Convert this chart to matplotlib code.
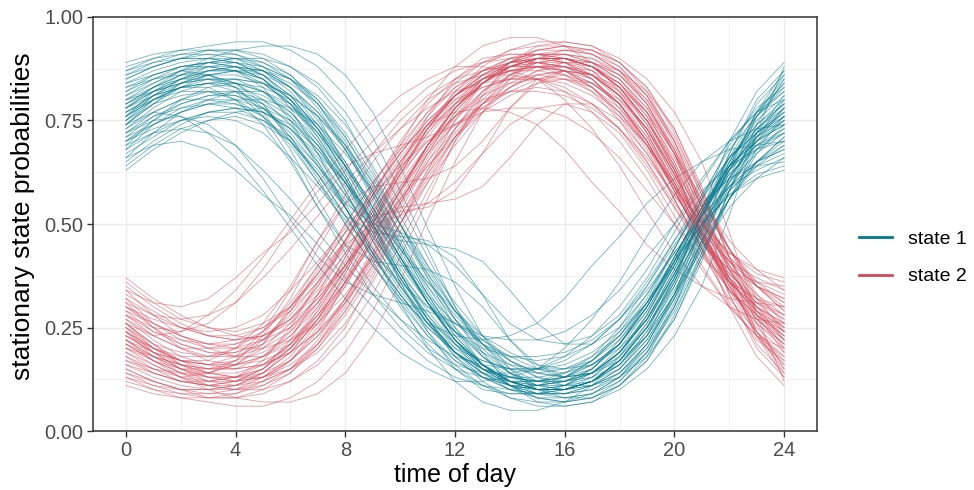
import numpy as np
import matplotlib
matplotlib.use("Agg")
import matplotlib.pyplot as plt
from matplotlib.lines import Line2D

plt.rcParams['font.family'] = ['Liberation Sans', 'DejaVu Sans']

# hours of the day at which the curves were read
hours = list(range(25))

# stationary probability of state 1, one row per posterior draw
state1 = [
    [0.76,0.80,0.83,0.84,0.84,0.82,0.77,0.69,0.58,0.46,0.35,0.26,0.19,0.15,0.13,0.12,0.13,0.16,0.21,0.30,0.42,0.54,0.64,0.71,0.76],
    [0.85,0.88,0.90,0.92,0.92,0.91,0.88,0.83,0.75,0.63,0.50,0.37,0.25,0.16,0.11,0.08,0.07,0.08,0.11,0.17,0.27,0.41,0.58,0.74,0.85],
    [0.70,0.73,0.75,0.76,0.75,0.72,0.66,0.59,0.51,0.43,0.36,0.30,0.26,0.23,0.22,0.22,0.24,0.28,0.34,0.42,0.50,0.58,0.64,0.68,0.70],
    [0.66,0.69,0.70,0.68,0.63,0.57,0.52,0.45,0.37,0.30,0.23,0.17,0.13,0.11,0.10,0.11,0.13,0.17,0.24,0.33,0.43,0.52,0.59,0.63,0.66],
    [0.78,0.82,0.85,0.86,0.84,0.79,0.70,0.60,0.52,0.48,0.47,0.46,0.42,0.33,0.22,0.15,0.13,0.15,0.21,0.31,0.44,0.56,0.66,0.73,0.78],
    [0.88,0.90,0.92,0.93,0.94,0.94,0.92,0.88,0.81,0.71,0.58,0.44,0.30,0.19,0.11,0.07,0.06,0.07,0.10,0.15,0.23,0.35,0.52,0.72,0.88],
    [0.74,0.79,0.84,0.87,0.88,0.87,0.83,0.76,0.64,0.50,0.36,0.24,0.15,0.10,0.09,0.09,0.11,0.15,0.22,0.31,0.42,0.54,0.64,0.70,0.74],
    [0.63,0.68,0.72,0.75,0.77,0.78,0.75,0.69,0.60,0.49,0.38,0.28,0.20,0.15,0.12,0.12,0.13,0.17,0.23,0.31,0.41,0.50,0.57,0.61,0.63],
    [0.82,0.85,0.87,0.86,0.83,0.77,0.68,0.56,0.45,0.35,0.27,0.20,0.16,0.14,0.14,0.15,0.18,0.23,0.30,0.39,0.50,0.61,0.70,0.77,0.82],
    [0.72,0.77,0.80,0.80,0.79,0.76,0.70,0.62,0.54,0.43,0.31,0.20,0.12,0.07,0.05,0.05,0.07,0.11,0.18,0.28,0.40,0.53,0.62,0.68,0.72],
    [0.75,0.80,0.83,0.84,0.82,0.76,0.66,0.54,0.45,0.41,0.40,0.39,0.36,0.30,0.22,0.16,0.13,0.14,0.19,0.28,0.40,0.53,0.64,0.71,0.75],
    [0.70,0.75,0.79,0.81,0.82,0.79,0.71,0.61,0.50,0.40,0.32,0.26,0.23,0.22,0.23,0.26,0.32,0.40,0.47,0.55,0.61,0.65,0.68,0.69,0.70],
    [0.79,0.83,0.86,0.88,0.88,0.86,0.81,0.73,0.62,0.50,0.38,0.27,0.19,0.14,0.11,0.10,0.11,0.14,0.20,0.29,0.41,0.54,0.66,0.74,0.79],
    [0.68,0.74,0.78,0.80,0.80,0.78,0.73,0.65,0.55,0.44,0.34,0.26,0.20,0.17,0.15,0.15,0.17,0.21,0.27,0.35,0.45,0.54,0.61,0.65,0.68],
    [0.74,0.77,0.76,0.72,0.66,0.58,0.49,0.40,0.32,0.25,0.19,0.15,0.12,0.12,0.13,0.15,0.20,0.27,0.36,0.47,0.57,0.65,0.70,0.73,0.74],
    [0.86,0.89,0.91,0.91,0.90,0.87,0.82,0.74,0.64,0.53,0.42,0.31,0.22,0.16,0.12,0.10,0.10,0.12,0.16,0.24,0.37,0.52,0.67,0.79,0.86],
    [0.77,0.81,0.84,0.86,0.87,0.86,0.83,0.77,0.68,0.57,0.45,0.33,0.23,0.16,0.12,0.10,0.10,0.12,0.17,0.25,0.36,0.49,0.61,0.71,0.77],
    [0.65,0.70,0.74,0.77,0.78,0.77,0.74,0.68,0.60,0.51,0.42,0.33,0.26,0.21,0.18,0.17,0.18,0.21,0.27,0.36,0.46,0.55,0.61,0.64,0.65],
    [0.83,0.86,0.88,0.89,0.88,0.85,0.78,0.67,0.54,0.41,0.30,0.21,0.15,0.11,0.09,0.09,0.10,0.13,0.19,0.28,0.41,0.56,0.69,0.78,0.83],
    [0.73,0.78,0.82,0.84,0.85,0.84,0.81,0.76,0.68,0.58,0.46,0.34,0.24,0.16,0.11,0.08,0.07,0.08,0.12,0.19,0.31,0.46,0.59,0.68,0.73],
    [0.80,0.84,0.87,0.88,0.87,0.83,0.75,0.64,0.55,0.50,0.48,0.45,0.40,0.33,0.26,0.22,0.21,0.23,0.28,0.37,0.48,0.60,0.70,0.77,0.80],
    [0.71,0.76,0.79,0.81,0.81,0.79,0.75,0.68,0.59,0.48,0.37,0.27,0.19,0.13,0.10,0.09,0.09,0.11,0.15,0.22,0.32,0.44,0.56,0.65,0.71],
    [0.89,0.91,0.92,0.92,0.91,0.88,0.83,0.75,0.65,0.54,0.42,0.31,0.22,0.15,0.11,0.09,0.09,0.11,0.15,0.23,0.36,0.53,0.70,0.82,0.89],
    [0.76,0.82,0.86,0.89,0.90,0.90,0.88,0.84,0.77,0.67,0.55,0.42,0.30,0.21,0.14,0.10,0.09,0.10,0.13,0.19,0.29,0.42,0.56,0.68,0.76],
    [0.69,0.72,0.73,0.72,0.69,0.63,0.56,0.48,0.40,0.33,0.27,0.22,0.18,0.16,0.15,0.15,0.16,0.19,0.24,0.31,0.40,0.50,0.59,0.65,0.69],
    [0.81,0.85,0.88,0.89,0.89,0.87,0.83,0.77,0.69,0.59,0.48,0.37,0.27,0.19,0.14,0.11,0.10,0.11,0.14,0.21,0.32,0.46,0.60,0.72,0.81],
    [0.75,0.79,0.81,0.82,0.81,0.78,0.72,0.64,0.54,0.43,0.33,0.24,0.17,0.13,0.11,0.11,0.12,0.15,0.21,0.30,0.41,0.53,0.63,0.70,0.75],
    [0.78,0.83,0.87,0.90,0.92,0.93,0.93,0.91,0.86,0.77,0.64,0.49,0.35,0.23,0.15,0.10,0.08,0.08,0.11,0.17,0.28,0.43,0.58,0.70,0.78],
    [0.67,0.71,0.75,0.77,0.78,0.77,0.73,0.66,0.57,0.47,0.37,0.28,0.21,0.16,0.13,0.12,0.12,0.14,0.19,0.27,0.38,0.49,0.58,0.64,0.67],
    [0.72,0.75,0.76,0.74,0.69,0.61,0.51,0.42,0.36,0.33,0.31,0.29,0.26,0.22,0.18,0.15,0.14,0.16,0.21,0.30,0.42,0.54,0.63,0.69,0.72],
    [0.84,0.87,0.89,0.90,0.89,0.86,0.80,0.71,0.60,0.48,0.36,0.26,0.18,0.13,0.10,0.09,0.10,0.12,0.17,0.25,0.37,0.51,0.65,0.76,0.84],
    [0.79,0.82,0.84,0.85,0.84,0.82,0.78,0.72,0.64,0.55,0.45,0.36,0.28,0.21,0.16,0.13,0.12,0.13,0.16,0.23,0.35,0.50,0.63,0.73,0.79],
    [0.74,0.80,0.84,0.86,0.86,0.84,0.79,0.71,0.61,0.50,0.39,0.29,0.21,0.15,0.12,0.11,0.12,0.15,0.21,0.30,0.42,0.54,0.64,0.70,0.74],
    [0.80,0.82,0.84,0.85,0.85,0.84,0.81,0.76,0.69,0.60,0.50,0.40,0.31,0.23,0.17,0.13,0.11,0.11,0.13,0.18,0.27,0.42,0.58,0.71,0.80],
    [0.70,0.74,0.77,0.79,0.79,0.77,0.73,0.67,0.60,0.52,0.44,0.36,0.29,0.23,0.19,0.16,0.15,0.16,0.20,0.27,0.37,0.48,0.58,0.65,0.70],
    [0.77,0.81,0.83,0.83,0.80,0.74,0.65,0.54,0.43,0.33,0.25,0.19,0.15,0.13,0.12,0.12,0.14,0.18,0.25,0.35,0.46,0.57,0.66,0.72,0.77],
    [0.87,0.89,0.90,0.90,0.89,0.86,0.81,0.73,0.62,0.50,0.38,0.27,0.18,0.12,0.08,0.06,0.06,0.07,0.11,0.18,0.30,0.46,0.63,0.77,0.87],
    [0.76,0.80,0.83,0.85,0.85,0.82,0.76,0.67,0.57,0.49,0.46,0.45,0.44,0.41,0.34,0.26,0.21,0.21,0.25,0.33,0.44,0.56,0.66,0.72,0.76],
    [0.66,0.72,0.77,0.80,0.82,0.82,0.79,0.73,0.64,0.53,0.42,0.31,0.22,0.16,0.12,0.10,0.10,0.12,0.16,0.23,0.33,0.44,0.54,0.61,0.66],
    [0.82,0.86,0.88,0.89,0.88,0.85,0.79,0.70,0.58,0.46,0.35,0.26,0.19,0.15,0.13,0.13,0.14,0.17,0.23,0.32,0.44,0.57,0.68,0.76,0.82],
    [0.79,0.83,0.86,0.87,0.87,0.85,0.80,0.72,0.61,0.49,0.37,0.27,0.19,0.14,0.11,0.10,0.10,0.12,0.17,0.26,0.38,0.52,0.64,0.73,0.79],
    [0.73,0.77,0.80,0.82,0.82,0.80,0.76,0.69,0.60,0.50,0.40,0.31,0.24,0.19,0.16,0.15,0.15,0.17,0.22,0.30,0.41,0.52,0.62,0.69,0.73],
    [0.85,0.88,0.90,0.91,0.91,0.89,0.85,0.78,0.68,0.56,0.43,0.31,0.21,0.14,0.10,0.08,0.08,0.09,0.13,0.20,0.32,0.48,0.64,0.77,0.85],
    [0.69,0.75,0.80,0.83,0.84,0.83,0.80,0.74,0.65,0.54,0.42,0.31,0.22,0.16,0.12,0.10,0.10,0.12,0.16,0.24,0.34,0.46,0.56,0.64,0.69],
    [0.77,0.80,0.82,0.82,0.80,0.76,0.69,0.60,0.50,0.40,0.31,0.23,0.17,0.13,0.11,0.10,0.11,0.14,0.19,0.27,0.39,0.52,0.63,0.72,0.77],
    [0.81,0.84,0.87,0.89,0.90,0.89,0.86,0.80,0.71,0.60,0.47,0.35,0.25,0.18,0.13,0.11,0.11,0.13,0.18,0.26,0.38,0.52,0.65,0.75,0.81],
    [0.75,0.81,0.85,0.87,0.87,0.85,0.80,0.73,0.64,0.54,0.44,0.35,0.27,0.21,0.17,0.14,0.13,0.14,0.18,0.25,0.35,0.48,0.60,0.69,0.75],
    [0.83,0.85,0.86,0.86,0.84,0.80,0.74,0.65,0.54,0.43,0.32,0.23,0.16,0.11,0.08,0.07,0.07,0.09,0.13,0.21,0.33,0.49,0.64,0.76,0.83],
    [0.71,0.74,0.77,0.79,0.80,0.80,0.78,0.74,0.67,0.58,0.48,0.38,0.29,0.22,0.17,0.14,0.13,0.14,0.17,0.23,0.33,0.45,0.56,0.65,0.71],
    [0.87,0.90,0.91,0.92,0.92,0.90,0.86,0.79,0.69,0.57,0.44,0.32,0.22,0.15,0.11,0.09,0.09,0.10,0.14,0.21,0.33,0.50,0.67,0.80,0.87],
    [0.64,0.69,0.73,0.75,0.76,0.74,0.70,0.63,0.54,0.44,0.35,0.27,0.21,0.17,0.15,0.14,0.15,0.18,0.23,0.31,0.41,0.50,0.57,0.62,0.64],
    [0.78,0.82,0.85,0.87,0.88,0.87,0.84,0.79,0.71,0.61,0.50,0.39,0.29,0.21,0.15,0.12,0.11,0.12,0.15,0.22,0.33,0.47,0.61,0.71,0.78],
    [0.80,0.83,0.85,0.85,0.83,0.78,0.71,0.62,0.52,0.42,0.33,0.25,0.19,0.15,0.13,0.12,0.13,0.16,0.21,0.29,0.40,0.53,0.65,0.74,0.80],
    [0.74,0.79,0.83,0.86,0.87,0.87,0.85,0.81,0.74,0.64,0.52,0.40,0.29,0.20,0.14,0.11,0.10,0.11,0.14,0.20,0.30,0.43,0.56,0.67,0.74],
    [0.84,0.86,0.88,0.88,0.87,0.84,0.79,0.72,0.63,0.52,0.41,0.31,0.22,0.16,0.12,0.10,0.10,0.12,0.17,0.25,0.37,0.52,0.66,0.77,0.84],
    [0.68,0.72,0.75,0.77,0.77,0.75,0.71,0.64,0.56,0.47,0.38,0.30,0.24,0.20,0.18,0.18,0.19,0.22,0.27,0.34,0.43,0.52,0.59,0.65,0.68],
    [0.76,0.81,0.85,0.88,0.89,0.88,0.85,0.79,0.70,0.58,0.45,0.33,0.23,0.16,0.12,0.10,0.10,0.12,0.17,0.25,0.36,0.49,0.61,0.70,0.76],
    [0.72,0.76,0.78,0.79,0.78,0.75,0.70,0.62,0.52,0.42,0.33,0.25,0.19,0.14,0.12,0.11,0.12,0.14,0.19,0.27,0.38,0.50,0.60,0.67,0.72],
    [0.86,0.88,0.90,0.90,0.90,0.88,0.85,0.80,0.72,0.62,0.50,0.38,0.27,0.18,0.12,0.09,0.08,0.09,0.12,0.19,0.30,0.45,0.61,0.76,0.86],
    [0.78,0.81,0.83,0.84,0.83,0.81,0.77,0.70,0.61,0.51,0.41,0.32,0.24,0.18,0.14,0.12,0.12,0.14,0.19,0.27,0.39,0.52,0.63,0.72,0.78],
]

labels = ["state 1", "state 2"]
colors = ["#00798c", "#d1495b"]

x_ticks = [0, 4, 8, 12, 16, 20, 24]
y_ticks = [0.00, 0.25, 0.50, 0.75, 1.00]

fig = plt.figure(figsize=(9.74, 4.9), dpi=100)
ax = fig.add_axes([93 / 974, 59 / 490, 724 / 974, 414 / 490])

p1 = np.array(state1)
p2 = 1 - p1  # two states: probabilities sum to one
for row1, row2 in zip(p1, p2):
    ax.plot(hours, row1, color=colors[0], lw=0.6, alpha=0.55, zorder=2)
    ax.plot(hours, row2, color=colors[1], lw=0.6, alpha=0.55, zorder=2)

ax.set_xlim(-1.2, 25.2)
ax.set_ylim(0, 1)
ax.set_xticks(x_ticks)
ax.set_yticks(y_ticks)
ax.set_yticklabels([f"{v:.2f}" for v in y_ticks])
ax.set_xticks([2, 6, 10, 14, 18, 22], minor=True)
ax.set_yticks([0.125, 0.375, 0.625, 0.875], minor=True)

ax.grid(which='major', color='#EBEBEB', lw=1.0, zorder=0)
ax.grid(which='minor', color='#EBEBEB', lw=0.5, zorder=0)
ax.set_axisbelow(True)
for s in ax.spines.values():
    s.set_color('#333333')
    s.set_linewidth(1.1)
ax.tick_params(which='major', length=4, width=1.0, color='#333333',
               labelsize=14.5, labelcolor='#4D4D4D', pad=3)
ax.tick_params(which='minor', length=0)

ax.set_xlabel("time of day", fontsize=18, labelpad=2)
ax.set_ylabel("stationary state probabilities", fontsize=19, labelpad=6)
ax.yaxis.set_label_coords(-0.08, 0.52)

handles = [Line2D([0], [0], color=c, lw=2) for c in colors]
fig.legend(handles, labels, loc='center left', bbox_to_anchor=(859 / 974, 232 / 490),
           frameon=False, fontsize=14, handlelength=1.7, handletextpad=0.8,
           labelspacing=1.0, borderpad=0, borderaxespad=0)

fig.savefig("out.png", dpi=100)
